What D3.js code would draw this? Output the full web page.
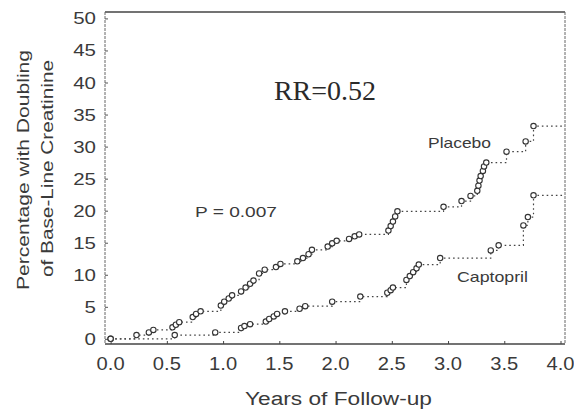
<!DOCTYPE html>
<html>
<head>
<meta charset="utf-8">
<script src="https://cdn.jsdelivr.net/npm/d3@7"></script>
<style>
  html, body { margin: 0; padding: 0; background: #fff; }
  svg { display: block; }
</style>
</head>
<body>
<svg id="chart" width="574" height="414"></svg>
<script>
// Cumulative incidence of doubling of base-line creatinine (percent) by years of follow-up.
const placeboYears = [0.00, 0.23, 0.34, 0.38, 0.55, 0.58, 0.61, 0.73, 0.76, 0.80, 0.98, 1.01, 1.05, 1.08, 1.16, 1.20, 1.24, 1.27, 1.32, 1.37, 1.47, 1.51, 1.66, 1.71, 1.76, 1.79, 1.93, 1.97, 2.01, 2.12, 2.17, 2.21, 2.47, 2.49, 2.51, 2.53, 2.55, 2.96, 3.12, 3.20, 3.26, 3.27, 3.28, 3.29, 3.31, 3.32, 3.34, 3.52, 3.69, 3.76];
const placeboPct   = [0.0, 0.6, 1.0, 1.4, 1.8, 2.2, 2.6, 3.4, 3.9, 4.3, 5.2, 5.8, 6.3, 6.8, 7.4, 8.0, 8.6, 9.1, 10.2, 10.8, 11.2, 11.7, 12.1, 12.6, 13.2, 13.9, 14.4, 14.9, 15.3, 15.6, 16.0, 16.3, 16.9, 17.6, 18.3, 19.1, 19.9, 20.6, 21.5, 22.3, 23.1, 23.9, 24.7, 25.4, 26.2, 26.9, 27.5, 29.2, 30.8, 33.2];

const captoprilYears = [0.00, 0.57, 0.93, 1.16, 1.19, 1.24, 1.38, 1.41, 1.45, 1.48, 1.55, 1.68, 1.73, 1.97, 2.22, 2.46, 2.49, 2.51, 2.63, 2.66, 2.69, 2.72, 2.74, 2.93, 3.38, 3.45, 3.67, 3.71, 3.76];
const captoprilPct   = [0.0, 0.6, 1.0, 1.7, 2.0, 2.3, 2.7, 3.1, 3.5, 3.9, 4.3, 4.7, 5.1, 5.8, 6.6, 7.2, 7.6, 8.0, 9.2, 9.8, 10.4, 11.0, 11.6, 12.6, 13.8, 14.6, 17.7, 19.0, 22.4];

const xTicks = [0, 0.5, 1.0, 1.5, 2.0, 2.5, 3.0, 3.5, 4.0];
const yTicks = [0, 5, 10, 15, 20, 25, 30, 35, 40, 45, 50];

const seriesNames = ["Placebo", "Captopril"];
const yTitle = ["Percentage with Doubling", "of Base-Line Creatinine"];
const xTitle = "Years of Follow-up";
const riskRatio = "RR=0.52";
const pValue = "P = 0.007";

const svg = d3.select("#chart");
const ink = "#333";
const sans = "'Liberation Sans', Arial, sans-serif";

const x = d3.scaleLinear().domain([-0.05, 4.04]).range([105, 565]);
const y = d3.scaleLinear().domain([-0.8, 51]).range([344, 12]);

const [x0, x1] = x.range();
const [yb, yt] = y.range();

// Text helper: places text with a horizontal stretch about its anchor.
function label(g, str, px, py, opts) {
  const o = Object.assign({ size: 16, anchor: "start", sx: 1, family: sans, fill: ink, rotate: 0, len: null }, opts || {});
  const t = g.append("text")
    .attr("transform", `translate(${px},${py}) rotate(${o.rotate}) scale(${o.sx},1)`)
    .attr("text-anchor", o.anchor)
    .attr("font-family", o.family)
    .attr("font-size", o.size)
    .attr("fill", o.fill)
    .text(str);
  if (o.len) t.attr("textLength", o.len).attr("lengthAdjust", "spacingAndGlyphs");
  return t;
}

// Plot frame
const frame = svg.append("g");
frame.append("line").attr("x1", x0).attr("x2", x1).attr("y1", yt).attr("y2", yt)
  .attr("stroke", "#444").attr("stroke-width", 1.4);
frame.append("line").attr("x1", x0).attr("x2", x1).attr("y1", yb).attr("y2", yb)
  .attr("stroke", "#444").attr("stroke-width", 1.6);
frame.append("line").attr("x1", x0).attr("x2", x0).attr("y1", yt).attr("y2", yb)
  .attr("stroke", "#666").attr("stroke-width", 1).attr("stroke-dasharray", "3,1");
frame.append("line").attr("x1", x1).attr("x2", x1).attr("y1", yt).attr("y2", yb)
  .attr("stroke", "#666").attr("stroke-width", 1).attr("stroke-dasharray", "3,1");

// Axes: ticks via d3 axis generators, labels stretched like the printed type
const xAxis = svg.append("g").attr("transform", `translate(0,${yb})`)
  .call(d3.axisBottom(x).tickValues(xTicks).tickSize(-3).tickFormat(""));
xAxis.select(".domain").remove();
xAxis.selectAll(".tick line").attr("stroke", "#444");
xTicks.forEach(v => label(svg, d3.format(".1f")(v), x(v), 370, { size: 18, anchor: "middle", sx: 1.12, fill: "#3a3a3a" }));

const yAxis = svg.append("g").attr("transform", `translate(${x0},0)`)
  .call(d3.axisLeft(y).tickValues(yTicks).tickSize(-3).tickFormat(""));
yAxis.select(".domain").remove();
yAxis.selectAll(".tick line").attr("stroke", "#555");
yTicks.forEach(v => label(svg, String(v), 96, y(v) + 6, { size: 16, anchor: "end", sx: 1.28, fill: "#3a3a3a" }));

// Axis titles
label(svg, yTitle[0], 29, 170, { size: 17, anchor: "middle", rotate: -90, len: 240, fill: "#3a3a3a" });
label(svg, yTitle[1], 53, 168.5, { size: 17, anchor: "middle", rotate: -90, len: 217, fill: "#3a3a3a" });
label(svg, xTitle, 338.5, 405, { size: 18, anchor: "middle", len: 187, fill: "#3a3a3a" });

// Kaplan-Meier style step curves with event markers
function drawCurve(years, pct) {
  const pts = years.map((t, i) => [t, pct[i]]);
  const stepPts = pts.concat([[x.domain()[1], pct[pct.length - 1]]]);
  const line = d3.line().x(d => x(d[0])).y(d => y(d[1])).curve(d3.curveStepAfter);
  svg.append("path").datum(stepPts)
    .attr("d", line)
    .attr("fill", "none")
    .attr("stroke", "#444")
    .attr("stroke-width", 1.2)
    .attr("stroke-dasharray", "1.6,3");
  svg.append("g").selectAll("circle").data(pts).join("circle")
    .attr("cx", d => x(d[0]))
    .attr("cy", d => y(d[1]))
    .attr("r", 2.7)
    .attr("fill", "#fff")
    .attr("stroke", "#333")
    .attr("stroke-width", 1.1);
}
drawCurve(captoprilYears, captoprilPct);
drawCurve(placeboYears, placeboPct);

// Annotations
label(svg, seriesNames[0], 428, 148, { size: 15, len: 63, fill: "#3a3a3a" });
label(svg, seriesNames[1], 457, 282, { size: 15, len: 71, fill: "#3a3a3a" });
label(svg, riskRatio, 325, 100, { size: 28, anchor: "middle", family: "'Liberation Serif', 'Times New Roman', serif", fill: "#2a2a2a" });
label(svg, pValue, 195, 217, { size: 14, len: 82, fill: "#3a3a3a" });
</script>
</body>
</html>
